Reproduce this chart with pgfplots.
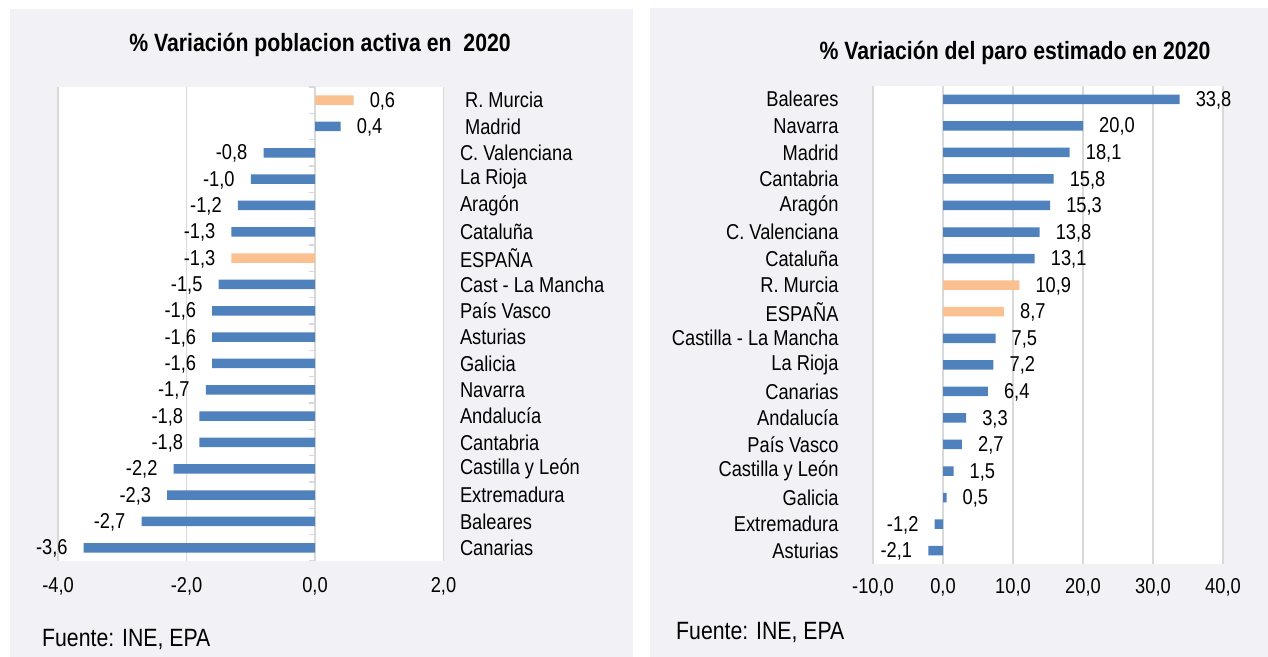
\documentclass[border=0pt]{standalone}
\usepackage{fontspec}
\setmainfont[FakeStretch=0.85]{Liberation Sans}
\usepackage{pgfplots}
\pgfplotsset{compat=1.18}
\definecolor{panel}{RGB}{242,242,246}
\definecolor{barblue}{RGB}{79,129,189}
\definecolor{barorange}{RGB}{250,192,144}
\definecolor{gridc}{RGB}{217,217,217}
\newcommand{\lblfont}{\fontsize{21.5bp}{24bp}\selectfont}
\pgfplotsset{
  regbar/.style={
    xbar, scale only axis, y dir=reverse, ymin=-0.5, ymax=17.5,
    axis background/.style={fill=white},
    axis line style={draw=none},
    major tick length=0pt,
    xmajorgrids, grid style={gridc, line width=1.5bp},
    ytick={0,...,17},
    tick label style={font=\lblfont, text=black},
    /pgf/number format/fixed, /pgf/number format/fixed zerofill,
    /pgf/number format/precision=1, /pgf/number format/use comma,
    /pgf/number format/assume math mode=true,
    bar width=9.5bp,
    point meta=x,
    nodes near coords,
    nodes near coords style={font=\lblfont, inner xsep=16bp, text=black, yshift=-1bp},
  },
  bluebar/.style={fill=barblue, draw=none, bar shift=0pt},
  orangebar/.style={fill=barorange, draw=none, bar shift=0pt},
}
\begin{document}
\begin{tikzpicture}[x=1bp,y=1bp]
\useasboundingbox (0,0) rectangle (1268,657);
\fill[white] (0,0) rectangle (1268,657);
\fill[panel] (10,0) rectangle (633,648);
\fill[panel] (650,0) rectangle (1268,649);

\node[font=\bfseries\fontsize{25bp}{30bp}\selectfont] at (320,612) {\% Variación poblacion activa en \ 2020};
\node[font=\bfseries\fontsize{25bp}{30bp}\selectfont] at (1015,604) {\% Variación del paro estimado en 2020};
\node[anchor=west, inner sep=0pt, font=\fontsize{25bp}{30bp}\selectfont] at (42,17) {Fuente: INE, EPA};
\node[anchor=west, inner sep=0pt, font=\fontsize{25bp}{30bp}\selectfont] at (676,24) {Fuente: INE, EPA};

\begin{axis}[regbar,
  at={(58bp,96bp)}, anchor=south west, width=385.5bp, height=474bp,
  xmin=-4, xmax=2, xtick={-4,-2,0,2},
  xticklabel style={yshift=-13bp},
  yticklabel pos=right,
  yticklabel style={anchor=west, xshift=13bp},
  yticklabels={{\ R. Murcia},{\ Madrid},C. Valenciana,La Rioja,Aragón,Cataluña,ESPAÑA,Cast - La Mancha,País Vasco,Asturias,Galicia,Navarra,Andalucía,Cantabria,Castilla y León,Extremadura,Baleares,Canarias},
]
\addplot[bluebar] coordinates {(0.4,1) (-0.8,2) (-1.0,3) (-1.2,4) (-1.3,5) (-1.5,7) (-1.6,8) (-1.6,9) (-1.6,10) (-1.7,11) (-1.8,12) (-1.8,13) (-2.2,14) (-2.3,15) (-2.7,16) (-3.6,17)};
\addplot[orangebar] coordinates {(0.6,0) (-1.3,6)};
\pgfplotsinvokeforeach{-0.5,0.5,...,17.5}{\draw[gridc, line width=1.5bp] (axis cs:0,#1) -- ([xshift=-6bp]axis cs:0,#1);}
\end{axis}

\begin{axis}[regbar,
  at={(873bp,93bp)}, anchor=south west, width=350bp, height=478bp,
  xmin=-10, xmax=40, xtick={-10,0,...,40},
  yticklabel style={anchor=east, xshift=-31bp},
  xticklabel style={yshift=-11bp},
  yticklabels={Baleares,Navarra,Madrid,Cantabria,Aragón,C. Valenciana,Cataluña,R. Murcia,ESPAÑA,Castilla - La Mancha,La Rioja,Canarias,Andalucía,País Vasco,Castilla y León,Galicia,Extremadura,Asturias},
]
\addplot[bluebar] coordinates {(33.8,0) (20.0,1) (18.1,2) (15.8,3) (15.3,4) (13.8,5) (13.1,6) (7.5,9) (7.2,10) (6.4,11) (3.3,12) (2.7,13) (1.5,14) (0.5,15) (-1.2,16) (-2.1,17)};
\addplot[orangebar] coordinates {(10.9,7) (8.7,8)};
\end{axis}
\end{tikzpicture}
\end{document}
